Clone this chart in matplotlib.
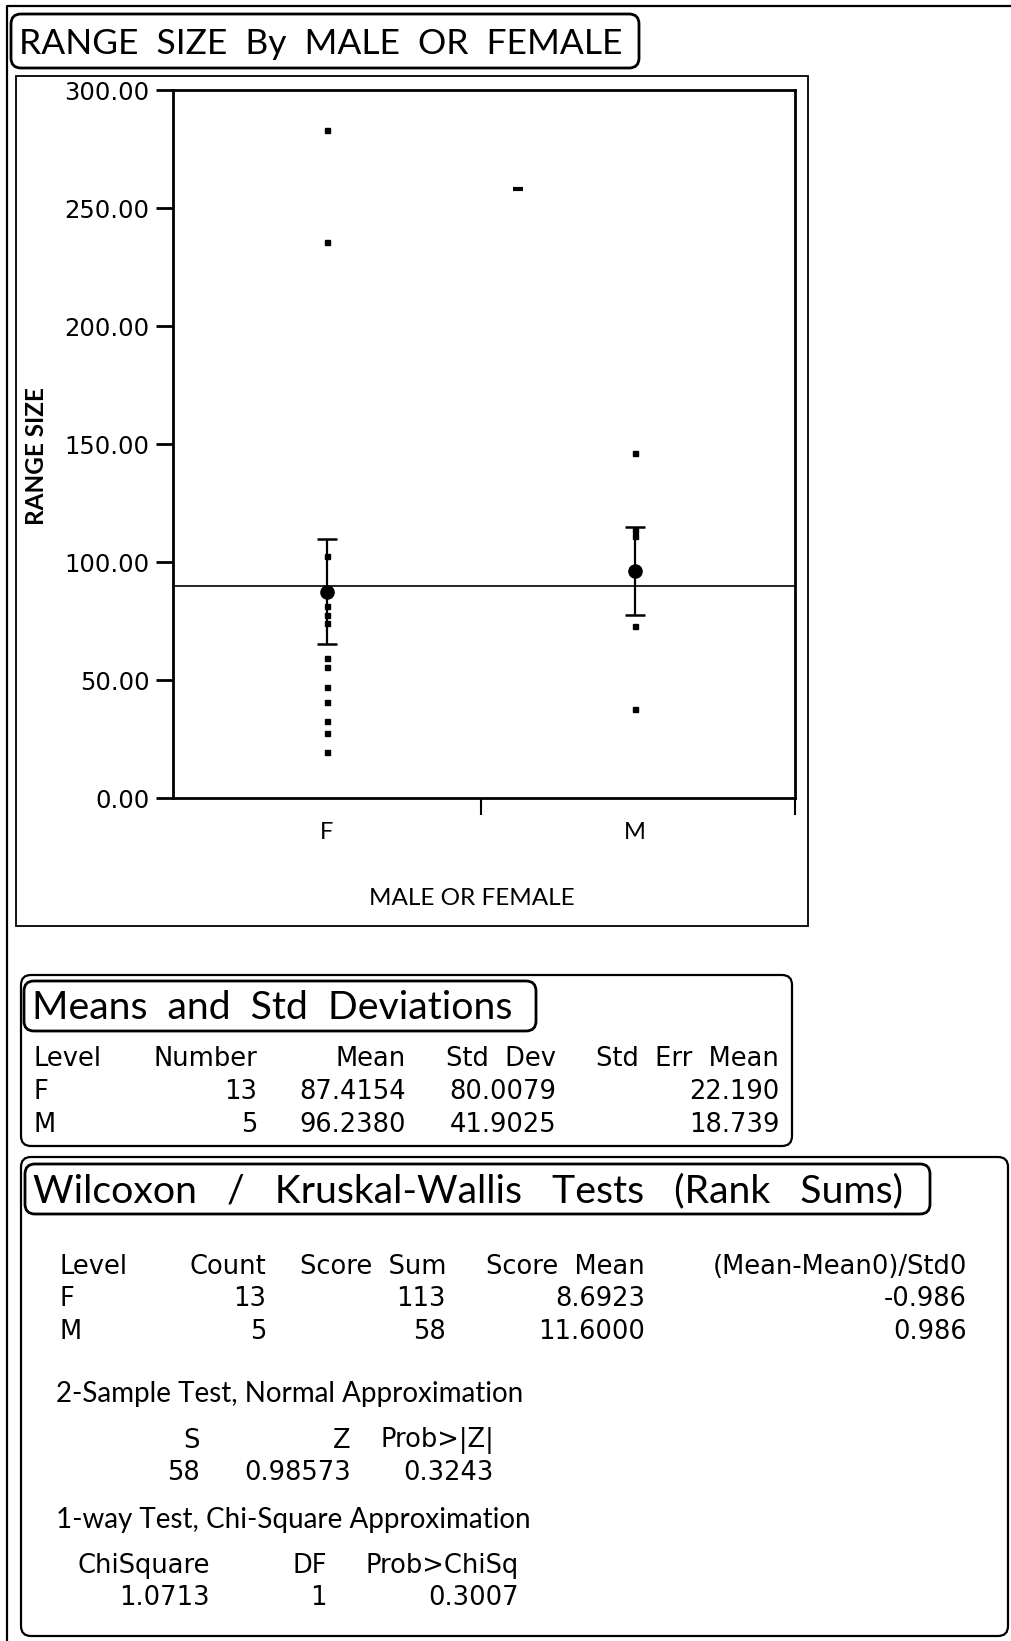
import matplotlib
matplotlib.use("Agg")
import matplotlib.pyplot as plt
from matplotlib.patches import FancyBboxPatch, Rectangle
import numpy as np

plt.rcParams['font.family'] = ['Lato', 'DejaVu Sans']
TABLE_FONT = 'DejaVu Sans'

# RANGE SIZE values by sex
levels = ['F', 'M']
range_f = [283.0, 235.5, 102.5, 81.5, 77.5, 74.0, 59.5, 55.5, 47.0, 40.5, 32.5, 27.5, 19.5]
range_m = [146.0, 113.5, 111.0, 73.0, 37.7]
stray_mark = [0.62, 258.0]

# summary table values
counts = [13, 5]
means = [87.4154, 96.2380]
std_devs = [80.0079, 41.9025]
std_errs = [22.190, 18.739]
grand_mean = 89.87

score_sums = [113, 58]
score_means = ['8.6923', '11.6000']
z_scores = ['-0.986', '0.986']
two_sample = ['58', '0.98573', '0.3243']
chi_square = ['1.0713', '1', '0.3007']

W, H = 1011, 1641
fig = plt.figure(figsize=(W / 100, H / 100), dpi=100)

# page layer in pixel units
pg = fig.add_axes([0, 0, 1, 1])
pg.set_xlim(0, W)
pg.set_ylim(H, 0)
pg.axis('off')

def rbox(x0, y0, x1, y1, lw=1.6, r=10):
    pg.add_patch(FancyBboxPatch((x0, y0), x1 - x0, y1 - y0,
                                boxstyle=f"round,pad=0,rounding_size={r}",
                                fill=False, ec='black', lw=lw))

def txt(x, y, s, size=15, ha='left', **kw):
    pg.text(x, y, s, fontsize=size, ha=ha, va='center', color='black', **kw)

def cell(x, y, s, ha='right', size=18.5):
    txt(x, y, s, size=size, ha=ha, family=TABLE_FONT)

# page frame lines
pg.plot([7, 7, W], [H, 6, 6], color='black', lw=1.6)

# chart header
rbox(11, 14, 639, 68, lw=2.0)
txt(19, 44, 'RANGE  SIZE  By  MALE  OR  FEMALE', size=25.5)
pg.add_patch(Rectangle((16, 76), 792, 850, fill=False, ec='black', lw=1.3))

# scatter panel
ax = fig.add_axes([173 / W, 1 - 798 / H, (795 - 173) / W, (798 - 90) / H])
ax.set_xlim(-0.5, 1.52)
ax.set_ylim(0, 300)
for s in ax.spines.values():
    s.set_linewidth(2.0)
ax.set_yticks([0, 50, 100, 150, 200, 250, 300])
ax.set_yticklabels([f'{v:.2f}' for v in ax.get_yticks()], family=TABLE_FONT)
ax.tick_params(axis='y', direction='out', length=12, width=2, labelsize=17.5, pad=5)
ax.set_xticks([0.5, 1.52])
ax.set_xticklabels(['', ''])
ax.set_xticks([0, 1], minor=True)
ax.set_xticklabels(levels, minor=True)
ax.tick_params(axis='x', which='major', direction='out', length=12, width=1.5)
ax.tick_params(axis='x', which='minor', length=0, labelsize=17, pad=17)
ax.set_xlabel('MALE OR FEMALE', fontsize=17.5, labelpad=33, x=0.48)
ax.set_ylabel('RANGE SIZE', fontsize=17.5, fontweight='bold', labelpad=12, y=0.483)

ax.axhline(grand_mean, color='black', lw=1.2)
for i, vals in enumerate([range_f, range_m]):
    ax.plot([i] * len(vals), vals, 's', color='black', ms=3.6)
ax.errorbar([0, 1], means, yerr=std_errs, fmt='o', color='black', ms=9.5,
            capsize=7, elinewidth=1.6, capthick=1.8)
ax.plot(stray_mark[0], stray_mark[1], marker='_', color='black', ms=7, mew=3)

# Means and Std Deviations
rbox(21, 975, 792, 1146, lw=1.6)
rbox(24, 981, 536, 1031, lw=2.0)
txt(32, 1008, 'Means  and  Std  Deviations', size=28.3)
cell(33, 1059, 'Level', ha='left')
cell(33, 1092, 'F', ha='left')
cell(33, 1125, 'M', ha='left')
col_right = [257, 406, 556, 779]
heads = ['Number', 'Mean', 'Std  Dev', 'Std  Err  Mean']
for xr, h in zip(col_right, heads):
    cell(xr, 1059, h)
for row, y in enumerate([1092, 1125]):
    cells = [str(counts[row]), f'{means[row]:.4f}', f'{std_devs[row]:.4f}', f'{std_errs[row]:.3f}']
    for xr, c in zip(col_right, cells):
        cell(xr, y, c)

# Wilcoxon / Kruskal-Wallis
rbox(21, 1157, 1008, 1636, lw=1.6)
rbox(25, 1164, 930, 1214, lw=2.0)
txt(33, 1191, 'Wilcoxon   /   Kruskal-Wallis   Tests   (Rank   Sums)', size=28.3)
cell(60, 1267, 'Level', ha='left')
cell(60, 1299, 'F', ha='left')
cell(60, 1332, 'M', ha='left')
wcol = [266, 446, 645, 967]
wheads = ['Count', 'Score  Sum', 'Score  Mean', '(Mean-Mean0)/Std0']
for xr, h in zip(wcol, wheads):
    cell(xr, 1267, h)
for row, y in enumerate([1299, 1332]):
    cells = [str(counts[row]), str(score_sums[row]), score_means[row], z_scores[row]]
    for xr, c in zip(wcol, cells):
        cell(xr, y, c)

txt(56, 1394, '2-Sample Test, Normal Approximation', size=20)
scol = [200, 351, 494]
for xr, h, v in zip(scol, ['S', 'Z', 'Prob>|Z|'], two_sample):
    cell(xr, 1441, h)
    cell(xr, 1473, v)

txt(56, 1520, '1-way Test, Chi-Square Approximation', size=20)
ccol = [210, 327, 519]
for xr, h, v in zip(ccol, ['ChiSquare', 'DF', 'Prob>ChiSq'], chi_square):
    cell(xr, 1566, h)
    cell(xr, 1598, v)

fig.savefig('out.png', dpi=100, facecolor='white')
